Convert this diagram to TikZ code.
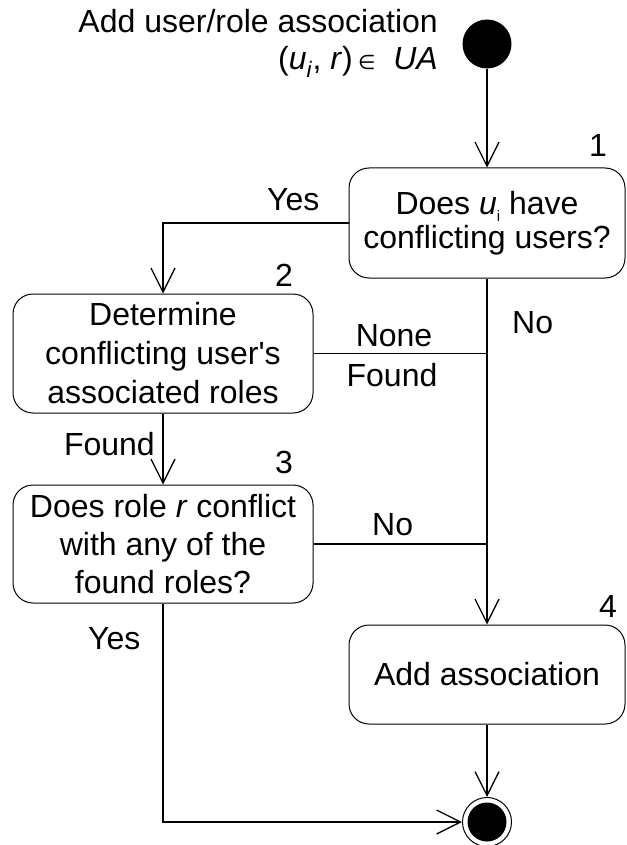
\documentclass[tikz,border=0pt]{standalone}
\usepackage{fontspec}
\setmainfont{Liberation Sans}
\newfontfamily\mathsymfont{DejaVu Sans}
\usetikzlibrary{arrows.meta}
% straight apostrophe, inserted as a glyph so no quote mapping applies
\newcommand{\straightquote}{\XeTeXglyph\XeTeXcharglyph"27\relax}
\begin{document}
\begin{tikzpicture}[x=1pt,y=-1pt,
  every node/.style={font=\fontsize{32}{34}\selectfont},
  activity/.style={draw,line width=1pt,rounded corners=20pt,inner sep=0pt,align=center},
  flow/.style={line width=1.3pt},
  flowarrow/.style={flow,-{Straight Barb[length=24pt,width=24pt]}},
  lbl/.style={inner sep=0pt},
  stepno/.style={inner sep=0pt,anchor=base east}
]
\useasboundingbox (0,0) rectangle (626,845);

% initial and final states
\node[circle,fill=black,minimum size=49pt,inner sep=0pt] (start) at (487,44) {};
\node[circle,draw,line width=1pt,minimum size=49pt,inner sep=0pt] (stop) at (487,822) {};
\fill (stop.center) circle (19.5);

% activities
\node[activity,minimum width=276pt,minimum height=110pt,
      font=\fontsize{32}{34}\selectfont] (b1) at (487,223)
  {Does \textit{u}\raisebox{-0.22em}{\fontsize{15}{15}\selectfont i} have\\conflicting users?};
\node[activity,minimum width=300pt,minimum height=119pt,
      font=\fontsize{32}{39}\selectfont] (b2) at (163,353.5)
  {Determine\\conflicting user\straightquote s\\associated roles};
\node[activity,minimum width=300pt,minimum height=118pt,
      font=\fontsize{32}{38}\selectfont] (b3) at (163,544)
  {Does role \textit{r} conflict\\with any of the\\found roles?};
\node[activity,minimum width=276pt,minimum height=99pt] (b4) at (487,674.5)
  {Add association};

% step numbers
\node[stepno] (n1) at (607,157) {1};
\node[stepno] (n2) at (293,286) {2};
\node[stepno] (n3) at (293,473) {3};
\node[stepno] (n4) at (617,617) {4};

% start label
\node[lbl,anchor=base east] (t1) at (438,33) {Add user/role association};
\node[lbl,anchor=base east] (t2) at (438,70)
  {(\textit{u}\textsubscript{\textit{i}}, \textit{r})\,{\mathsymfont\fontsize{20}{20}\selectfont ∈}\ \ \textit{UA}};

% transitions
\draw[flowarrow] (start) -- (b1);
\draw[flowarrow] (b1.west) -| (b2.north);
\draw[flowarrow] (b1.south) -- (b4.north);
\draw[flow] (b2.east) -- (b2.east -| b1.south);
\draw[flow] (b3.east) -- (b3.east -| b1.south);
\draw[flowarrow] (b2.south) -- (b3.north);
\draw[flowarrow] (b3.south) |- (stop.west);
\draw[flowarrow] (b4.south) -- (stop.north);

% guard labels
\node[lbl,anchor=base west] (yes1) at (267,210) {Yes};
\node[lbl,anchor=base] (none) at (394,346) {None};
\node[lbl,anchor=base] (found1) at (392,386) {Found};
\node[lbl,anchor=base west] (no1) at (512,333) {No};
\node[lbl,anchor=base east] (found2) at (155,455) {Found};
\node[lbl,anchor=base west] (no2) at (372,535) {No};
\node[lbl,anchor=base west] (yes2) at (88,649) {Yes};
\end{tikzpicture}
\end{document}
